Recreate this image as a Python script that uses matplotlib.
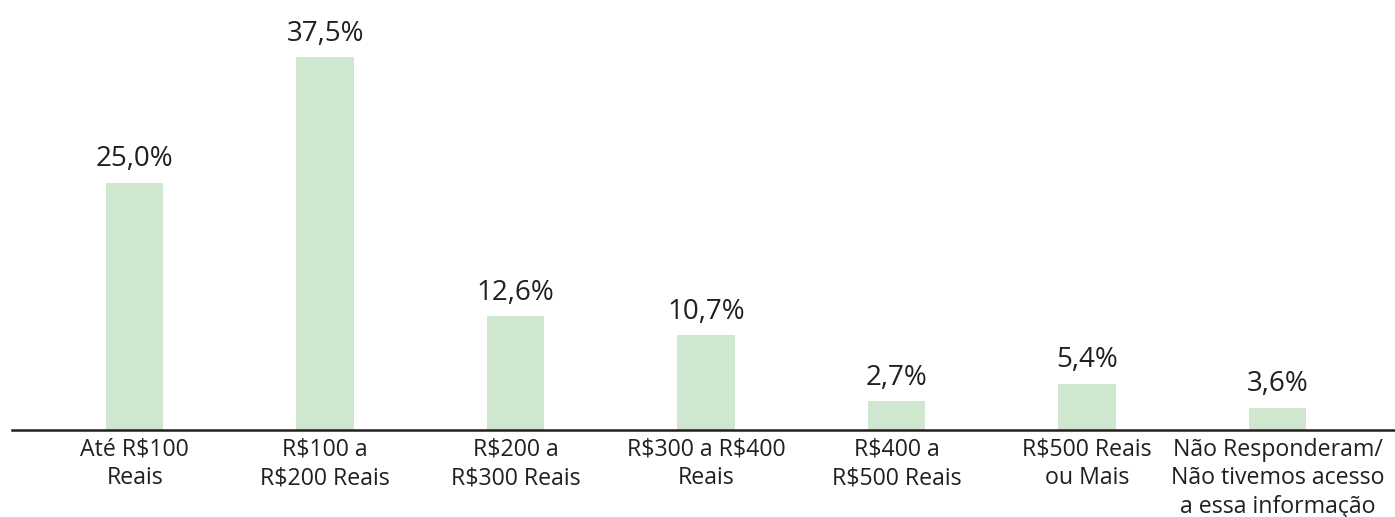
import matplotlib
matplotlib.use("Agg")
import matplotlib.pyplot as plt

categories = ["Até R$100\nReais", "R$100 a\nR$200 Reais", "R$200 a\nR$300 Reais",
              "R$300 a R$400\nReais", "R$400 a\nR$500 Reais", "R$500 Reais\nou Mais",
              "Não Responderam/\nNão tivemos acesso\na essa informação"]
# bar heights as drawn in the picture (percent units)
bar_heights = [25.0, 37.7, 11.5, 9.6, 2.9, 4.7, 2.25]
# value labels printed above the bars
value_labels = ["25,0%", "37,5%", "12,6%", "10,7%", "2,7%", "5,4%", "3,6%"]

plt.rcParams['font.family'] = ['Open Sans', 'DejaVu Sans']
plt.rcParams['text.parse_math'] = False
fig = plt.figure(figsize=(13.95, 5.17), dpi=100)
ax = fig.add_axes([12/1395, 87/517, 1383/1395, 430/517])
x = list(range(len(categories)))
ax.bar(x, bar_heights, width=0.302, color="#cfe6cf")
for xi, h, lab in zip(x, bar_heights, value_labels):
    ax.annotate(lab, (xi, h), xytext=(0, 11.9), textcoords="offset points",
                ha="center", va="baseline", fontsize=20, color="#231f20")
ax.set_xlim(-0.644, 6.616)
ax.set_ylim(0, 43.48)
for s in ["top", "right", "left"]:
    ax.spines[s].set_visible(False)
ax.spines["bottom"].set_linewidth(1.8)
ax.spines["bottom"].set_color("#231f20")
ax.set_yticks([])
ax.set_xticks(x)
ax.set_xticklabels(categories, fontsize=16.7, color="#231f20", linespacing=1.26)
ax.tick_params(axis="x", length=0, pad=5.5)
fig.savefig("out.png", dpi=100)
